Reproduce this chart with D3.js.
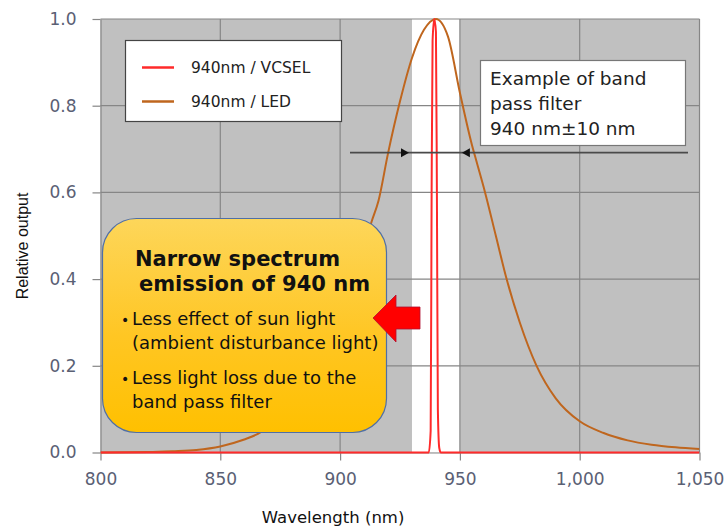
<!DOCTYPE html>
<html>
<head>
<meta charset="utf-8">
<style>
body { margin: 0; background: #fff; }
svg { display: block; }
text { font-family: 'DejaVu Sans', sans-serif; }
</style>
</head>
<body>
<script src="https://cdn.jsdelivr.net/npm/d3@7"></script>
<script>

// spectrum data
const ledWavelength = [800, 820, 830, 840, 850, 860, 865, 870, 880, 890, 895, 900, 905, 910, 913, 916, 920, 925, 930, 935, 940,
    945, 950, 955, 957, 960.5, 965, 969.5, 975, 982, 990, 1000, 1010, 1020, 1030, 1040, 1050];
const ledOutput = [0.0, 0.001, 0.003, 0.006, 0.014, 0.03, 0.041, 0.058, 0.095, 0.17, 0.23, 0.3, 0.38, 0.47, 0.53, 0.58, 0.69, 0.81, 0.91, 0.975, 1.0,
    0.96, 0.83, 0.71, 0.67, 0.6, 0.5, 0.4, 0.3, 0.2, 0.125, 0.072, 0.045, 0.028, 0.018, 0.012, 0.008];

const vcselWavelength = [800, 937, 937.8, 938.2, 938.6, 939.3, 940, 940.4, 940.8, 941.4, 942, 1050];
const vcselOutput = [0, 0, 0.05, 0.6, 0.95, 1.0, 0.97, 0.6, 0.1, 0.01, 0, 0];

const seriesNames = ['940nm / VCSEL', '940nm / LED'];
const seriesColors = ['#ff2a2a', '#bf661e'];

const xTicks = [800, 850, 900, 950, 1000, 1050];
const yTicks = [0, 0.2, 0.4, 0.6, 0.8, 1.0];

const bandLow = 930;
const bandHigh = 950;

const filterLines = ['Example of band', 'pass filter', '940 nm\u00b110 nm'];
const calloutTitle = ['Narrow spectrum', 'emission of 940 nm'];
const calloutBullets = [['Less effect of sun light', '(ambient disturbance light)'], ['Less light loss due to the', 'band pass filter']];

const fullWidth = 725;
const fullHeight = 526;
const margin = {top: 19, right: 25.5, bottom: 73.5, left: 100.5};

const svg = d3.select('body').append('svg')
    .attr('width', fullWidth)
    .attr('height', fullHeight);

const x = d3.scaleLinear()
    .domain([800, 1050])
    .range([margin.left, fullWidth - margin.right]);

const y = d3.scaleLinear()
    .domain([0, 1])
    .range([fullHeight - margin.bottom, margin.top]);

const defs = svg.append('defs');

defs.append('clipPath').attr('id', 'plot-clip')
    .append('rect')
    .attr('x', x(800)).attr('y', y(1) - 2)
    .attr('width', x(1050) - x(800)).attr('height', y(0) - y(1) + 4);

const grad = defs.append('linearGradient')
    .attr('id', 'callout-fill')
    .attr('x1', 0).attr('y1', 0).attr('x2', 0).attr('y2', 1);
grad.append('stop').attr('offset', 0).attr('stop-color', '#fdd65a');
grad.append('stop').attr('offset', 0.55).attr('stop-color', '#ffc623');
grad.append('stop').attr('offset', 1).attr('stop-color', '#ffc000');

// plot background and pass band
svg.append('rect')
    .attr('x', x(800)).attr('y', y(1))
    .attr('width', x(1050) - x(800)).attr('height', y(0) - y(1))
    .attr('fill', '#c0c0c0');

svg.append('rect')
    .attr('x', x(bandLow)).attr('y', y(1))
    .attr('width', x(bandHigh) - x(bandLow)).attr('height', y(0) - y(1))
    .attr('fill', '#ffffff');

// grid
const grid = svg.append('g').attr('stroke', '#868686').attr('stroke-width', 1.2);
grid.selectAll('.gx').data(xTicks.slice(1)).join('line')
    .attr('x1', d => x(d)).attr('x2', d => x(d))
    .attr('y1', y(0)).attr('y2', y(1));
grid.selectAll('.gy').data(yTicks.slice(1)).join('line')
    .attr('x1', x(800)).attr('x2', x(1050))
    .attr('y1', d => y(d)).attr('y2', d => y(d));

// axes
const xAxis = svg.append('g')
    .attr('transform', `translate(0,${y(0)})`)
    .call(d3.axisBottom(x).tickValues(xTicks).tickFormat(d3.format(',')).tickSize(8).tickSizeOuter(0).tickPadding(12));

const yAxis = svg.append('g')
    .attr('transform', `translate(${x(800)},0)`)
    .call(d3.axisLeft(y).tickValues(yTicks).tickFormat(d3.format('.1f')).tickSize(8).tickSizeOuter(0).tickPadding(16));

[xAxis, yAxis].forEach(ax => {
    ax.select('.domain').attr('stroke', '#868686').attr('stroke-width', 1.2);
    ax.selectAll('.tick line').attr('stroke', '#868686').attr('stroke-width', 1.2);
    ax.selectAll('.tick text')
        .attr('fill', '#5a6074')
        .style('font-family', "'DejaVu Sans', sans-serif")
        .style('font-size', '17px');
});

// curves
const line = d3.line()
    .x(d => x(d[0]))
    .y(d => y(d[1]))
    .curve(d3.curveMonotoneX);

const curves = svg.append('g').attr('clip-path', 'url(#plot-clip)').attr('fill', 'none');

curves.append('path')
    .datum(d3.zip(ledWavelength, ledOutput))
    .attr('d', line)
    .attr('stroke', seriesColors[1])
    .attr('stroke-width', 2);

curves.append('path')
    .datum(d3.zip(vcselWavelength, vcselOutput))
    .attr('d', line)
    .attr('stroke', seriesColors[0])
    .attr('stroke-width', 2);

// legend
const legend = svg.append('g');
legend.append('rect')
    .attr('x', 125.5).attr('y', 40.5).attr('width', 216).attr('height', 81)
    .attr('fill', '#fff').attr('stroke', '#444').attr('stroke-width', 1.2);

seriesNames.forEach((name, i) => {
    const ly = 67.5 + i * 34;
    legend.append('line')
        .attr('x1', 142).attr('x2', 174).attr('y1', ly).attr('y2', ly)
        .attr('stroke', seriesColors[i]).attr('stroke-width', 2.5);
    legend.append('text')
        .attr('x', 191).attr('y', ly + 5.5)
        .attr('fill', '#222')
        .style('font-size', '15.5px')
        .text(name);
});

// band pass filter note
const note = svg.append('g');
note.append('rect')
    .attr('x', 480.5).attr('y', 60.5).attr('width', 205).attr('height', 85)
    .attr('fill', '#fff').attr('stroke', '#777').attr('stroke-width', 1.2);
note.selectAll('text').data(filterLines).join('text')
    .attr('x', 490)
    .attr('y', (d, i) => 85 + i * 25)
    .attr('fill', '#222')
    .style('font-size', '18.5px')
    .text(d => d);

const arrowY = 152.7;
note.append('line')
    .attr('x1', 350).attr('x2', 688).attr('y1', arrowY).attr('y2', arrowY)
    .attr('stroke', '#4a4a4a').attr('stroke-width', 1.8);
note.append('path')
    .attr('d', `M${x(bandLow) - 3},${arrowY} l-8,-4.5 l0,9 Z`)
    .attr('fill', '#111');
note.append('path')
    .attr('d', `M${x(bandHigh) + 2},${arrowY} l8,-4.5 l0,9 Z`)
    .attr('fill', '#111');

// callout
const callout = svg.append('g');
callout.append('rect')
    .attr('x', 102.5).attr('y', 218.5).attr('width', 284).attr('height', 214)
    .attr('rx', 34).attr('ry', 34)
    .attr('fill', 'url(#callout-fill)')
    .attr('stroke', '#4f6fa6').attr('stroke-width', 1.2);

callout.selectAll('.title').data(calloutTitle).join('text')
    .attr('x', (d, i) => i === 0 ? 135 : 139)
    .attr('y', (d, i) => 265.5 + i * 25.5)
    .attr('fill', '#111')
    .style('font-size', '21px')
    .style('font-weight', 'bold')
    .text(d => d);

const bulletTops = [324.5, 383.5];
calloutBullets.forEach((lines, b) => {
    callout.append('text')
        .attr('x', 121).attr('y', bulletTops[b])
        .attr('fill', '#111')
        .style('font-size', '14px')
        .text('\u2022');
    lines.forEach((t, j) => {
        callout.append('text')
            .attr('x', 132).attr('y', bulletTops[b] + j * 24)
            .attr('fill', '#111')
            .style('font-size', '18px')
            .text(t);
    });
});

callout.append('path')
    .attr('d', 'M373,318 L396,295 L396,307 L420,307 L420,329 L396,329 L396,342 Z')
    .attr('fill', '#ff0000')
    .attr('stroke', '#b01030')
    .attr('stroke-width', 0.8);

// axis titles
svg.append('text')
    .attr('x', x(900) - 7)
    .attr('y', 522.5)
    .attr('text-anchor', 'middle')
    .attr('fill', '#111')
    .style('font-size', '16.5px')
    .text('Wavelength (nm)');

svg.append('text')
    .attr('transform', `translate(27.5,${246}) rotate(-90)`)
    .attr('text-anchor', 'middle')
    .attr('fill', '#111')
    .style('font-family', "'Liberation Sans', Arial, sans-serif")
    .style('font-size', '16px')
    .text('Relative output');

</script>
</body>
</html>
